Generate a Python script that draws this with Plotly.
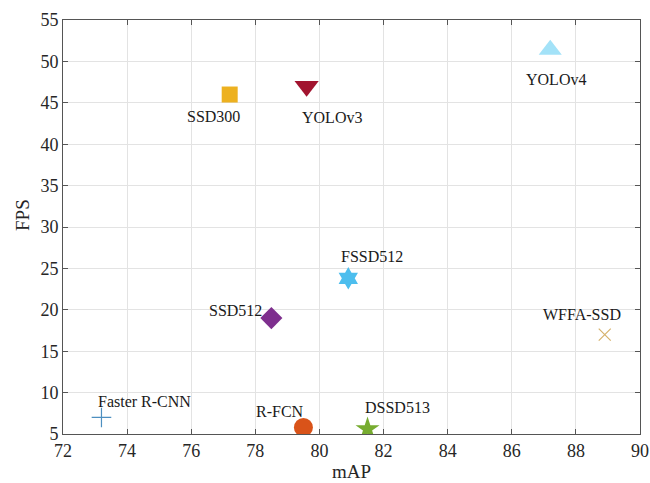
import plotly.graph_objects as go

models = ["Faster R-CNN", "R-FCN", "SSD300", "SSD512", "DSSD513", "FSSD512", "YOLOv3", "YOLOv4", "WFFA-SSD"]
map_vals = [73.2, 79.5, 77.2, 78.5, 81.5, 80.9, 79.6, 87.2, 88.9]
fps_vals = [7.0, 5.8, 46.0, 19.0, 5.6, 23.8, 47.0, 51.4, 17.0]
symbols = ["cross-thin-open", "circle", "square", "diamond", "star", "hexagram", "triangle-down", "triangle-up", "x-thin-open"]
colors = ["#4d8fc0", "#D95319", "#EDB120", "#7E2F8E", "#77AC30", "#4DBEEE", "#A2142F", "#a3e2f8", "#d6b26c"]
sizes = [14, 19, 16, 17, 18, 17, 21, 20, 12]
# label anchor offsets (pixels) relative to each point
label_dx = [-5, -49, -45, -64, -5, -9, -7, -26, -64]
label_dy = [-16, -16, 22, -8, -22, -22, 31, 30, -20]
xticks = [72, 74, 76, 78, 80, 82, 84, 86, 88, 90]
yticks = [5, 10, 15, 20, 25, 30, 35, 40, 45, 50, 55]

fig = go.Figure()
for m, x, y, s, c, sz in zip(models, map_vals, fps_vals, symbols, colors, sizes):
    open_sym = s.endswith("-open")
    fig.add_trace(go.Scatter(
        x=[x], y=[y], mode="markers", name=m,
        marker=dict(symbol=s, size=sz, color=c,
                    line=dict(color=c, width=1.2 if open_sym else 0)),
        showlegend=False))

for m, x, y, dx, dy in zip(models, map_vals, fps_vals, label_dx, label_dy):
    fig.add_annotation(x=x, y=y, text=m, showarrow=False, xanchor="left", yanchor="middle",
                       xshift=dx, yshift=-dy,
                       font=dict(family="Liberation Serif", size=16, color="#1a1a1a"))

title_font = dict(family="Liberation Serif", size=19, color="#262626")
fig.add_annotation(text="mAP", xref="paper", yref="paper", x=0.5, y=0, showarrow=False,
                   xanchor="center", yanchor="middle", yshift=-37, borderpad=0, font=title_font)
fig.add_annotation(text="FPS", xref="paper", yref="paper", x=0, y=0.5, showarrow=False,
                   xanchor="center", yanchor="middle", xshift=-41, yshift=12,
                   textangle=-90, font=title_font)

axis_common = dict(showline=True, linecolor="#555555", linewidth=1, mirror="allticks",
                   ticks="inside", ticklen=5, tickcolor="#555555", automargin=False,
                   ticklabeloverflow="allow",
                   showgrid=True, gridcolor="#e3e3e3", gridwidth=1, zeroline=False,
                   tickfont=dict(family="Liberation Serif", size=18, color="#262626"))

fig.update_layout(
    width=650, height=483,
    margin=dict(l=63, r=10, t=20, b=49),
    plot_bgcolor="white", paper_bgcolor="white",
    xaxis=dict(range=[72, 90], tickvals=xticks, **axis_common),
    yaxis=dict(range=[5, 55], tickvals=yticks, **axis_common),
)

fig.write_html(
    "out.html",
    config={"displayModeBar": False},
    post_script="document.body.style.margin='0';document.body.style.overflow='hidden';"
                "document.documentElement.style.overflow='hidden';",
)
